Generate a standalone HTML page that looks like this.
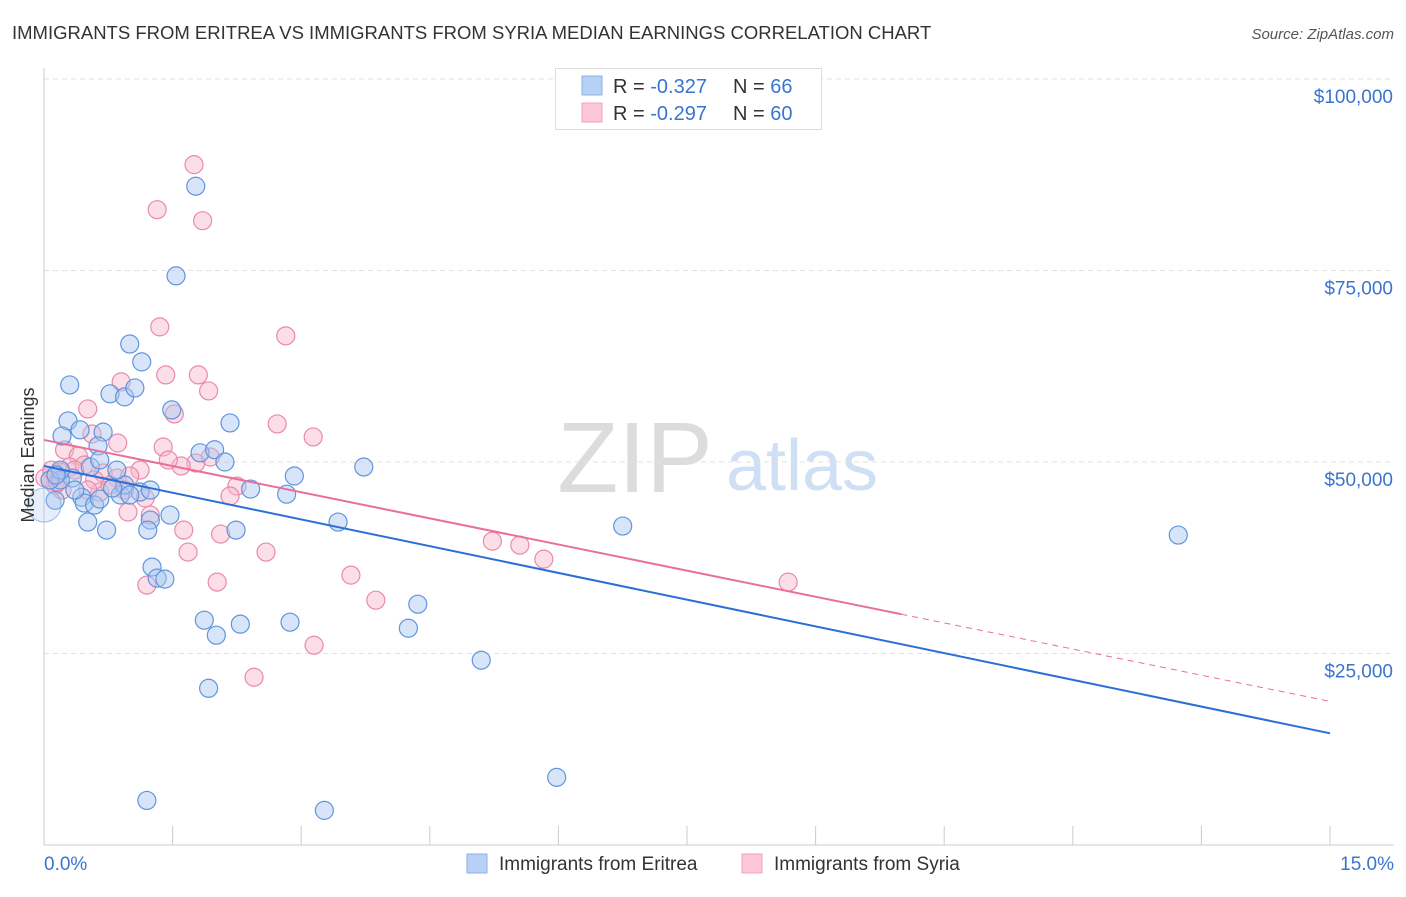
<!DOCTYPE html>
<html><head><meta charset="utf-8">
<style>
body{margin:0;background:#fff;font-family:"Liberation Sans",sans-serif;}
svg text{font-family:"Liberation Sans",sans-serif;}
</style></head>
<body>
<svg id="chart" width="1406" height="892" viewBox="0 0 1406 892">
<text x="12" y="39" font-size="18.5" fill="#333">IMMIGRANTS FROM ERITREA VS IMMIGRANTS FROM SYRIA MEDIAN EARNINGS CORRELATION CHART</text>
<text x="1394" y="39" font-size="15" fill="#555" font-style="italic" text-anchor="end">Source: ZipAtlas.com</text>
<g>
<text x="635" y="492" font-size="100" fill="#dcdcdc" text-anchor="middle" font-family="Liberation Serif">ZIP</text>
<text x="802" y="490" font-size="72" fill="#cfe0f4" text-anchor="middle">atlas</text>
</g>
<g id="grid"></g>
<g id="axes"></g>
<g id="marks"></g>
<text transform="translate(34,455) rotate(-90)" font-size="18" fill="#333" text-anchor="middle">Median Earnings</text>
<g>
<rect x="555.5" y="68.5" width="266" height="61" fill="#fff" stroke="#ddd"/>
<rect x="582" y="76" width="20" height="19" fill="#b7d1f5" stroke="#8ab2e8"/>
<rect x="582" y="103" width="20" height="19" fill="#fcc7d7" stroke="#f0a3bd"/>
<text x="613" y="93" font-size="20" fill="#333">R = <tspan fill="#3a74d0">-0.327</tspan></text>
<text x="733" y="93" font-size="20" fill="#333">N = <tspan fill="#3a74d0">66</tspan></text>
<text x="613" y="120" font-size="20" fill="#333">R = <tspan fill="#3a74d0">-0.297</tspan></text>
<text x="733" y="120" font-size="20" fill="#333">N = <tspan fill="#3a74d0">60</tspan></text>
</g>
<g>
<rect x="467" y="854" width="20" height="19" fill="#b7d1f5" stroke="#8ab2e8"/>
<text x="499" y="870" font-size="19" fill="#333">Immigrants from Eritrea</text>
<rect x="742" y="854" width="20" height="19" fill="#fcc7d7" stroke="#f0a3bd"/>
<text x="774" y="870" font-size="19" fill="#333">Immigrants from Syria</text>
</g>
</svg>
<script>
const xTicks=[0,1.5,3,4.5,6,7.5,9,10.5,12,13.5,15];
const yTicks=[25000,50000,75000,100000];
const yTickLabels=["$25,000","$50,000","$75,000","$100,000"];
const xEdgeLabels=["0.0%","15.0%"];
const eritreaX=[1.77,1.54,1.00,1.14,0.30,0.77,0.94,1.06,0.28,0.21,0.42,0.69,1.49,2.17,1.82,1.99,2.11,2.92,3.73,2.83,2.41,0.63,0.54,0.33,0.19,0.07,0.13,0.44,0.47,0.59,0.65,0.89,0.94,1.12,0.80,1.24,1.47,2.24,0.73,0.51,3.43,6.75,13.23,1.26,1.32,1.41,1.87,2.87,2.29,2.01,4.36,4.25,5.10,1.92,5.98,1.20,3.27,1.21,0.85,0.65,1.00,0.19,0.36,1.24,0.14,0.00];
const eritreaY=[86000,74300,65400,63070,60060,58900,58500,59670,55360,53400,54200,53900,56800,55100,51200,51600,50000,48170,49350,45800,46470,52100,49350,47900,47650,47650,45000,45400,44640,44380,45160,45690,47000,46080,46600,42420,43070,41110,41110,42160,42160,41640,40460,36280,34840,34710,29350,29090,28830,27390,31440,28300,24120,20460,8830,5820,4520,41110,48950,50260,45690,48950,46340,46340,48300,44380];
const syriaX=[1.75,1.32,1.85,1.35,2.82,1.42,1.80,0.90,1.92,0.51,1.52,2.72,3.14,0.56,0.86,1.39,1.94,1.77,1.60,0.24,0.40,0.30,0.47,0.69,0.85,1.12,0.07,0.13,0.21,0.65,1.18,2.25,2.17,1.24,0.98,1.63,2.06,1.68,2.59,5.23,5.55,5.83,3.58,2.02,1.20,3.87,8.68,3.15,2.45,0.19,0.01,0.59,1.00,0.77,0.94,1.45,0.36,0.09,0.16,0.51];
const syriaY=[88820,82940,81500,67640,66470,61370,61370,60460,59280,56930,56270,54970,53270,53660,52480,51960,50650,49870,49480,51570,50780,49350,49610,48560,47910,48950,47650,46990,46340,46080,45300,46860,45560,43070,43470,41110,40590,38240,38240,39670,39150,37320,35230,34320,33930,31960,34320,26080,21900,48690,47910,47650,48170,46990,46340,50260,48950,48950,47390,46340];
const eritreaTrend=[49480,14580];
const syriaTrend=[52880,18755];
const syriaSolidEnd=10;

const NS="http://www.w3.org/2000/svg";
const X0=44,X1=1330,Y0=845,YT=79;
function sx(v){return X0+v/15*(X1-X0);}
function sy(v){return Y0-v/100000*(Y0-YT);}
function mk(tag,attrs,parent){const e=document.createElementNS(NS,tag);for(const k in attrs)e.setAttribute(k,attrs[k]);parent.appendChild(e);return e;}
const grid=document.getElementById('grid'),axes=document.getElementById('axes'),marks=document.getElementById('marks');
yTicks.forEach((t,i)=>{
 const g=mk('line',{x1:X0,y1:sy(t),x2:1394,y2:sy(t),stroke:'#e2e2e2','stroke-dasharray':'5,4'},grid);
 
 
 const tx=mk('text',{x:1393,y:sy(t)+24,'font-size':19,fill:'#3a74d0','text-anchor':'end'},axes);
 tx.textContent=yTickLabels[i];
 
 
});
let ax=mk('line',{x1:X0,y1:68,x2:X0,y2:Y0,stroke:'#ccc'},axes);


let bx=mk('line',{x1:X0,y1:Y0,x2:1394,y2:Y0,stroke:'#ccc'},axes);


xTicks.forEach(t=>{
 const k=mk('line',{x1:sx(t),y1:826,x2:sx(t),y2:Y0,stroke:'#ccc'},axes);
 
 
});
[[0,'start',44],[1,'end',1394]].forEach(([i,a,x])=>{
 const tx=mk('text',{x:x,y:870,'font-size':19,fill:'#3a74d0','text-anchor':a},axes);
 tx.textContent=xEdgeLabels[i];
 
 
});
function dots(xs,ys,fill,stroke,name){
 xs.forEach((x,i)=>{
  const big=(i===xs.length-1&&name==='eritrea-point');
  const c=mk('circle',{cx:sx(x),cy:sy(ys[i]),r:big?17:9,fill:fill,'fill-opacity':big?0.3:0.45,stroke:stroke,'stroke-width':1.2,'stroke-opacity':big?0.5:1},marks);
  
  
 });
}
dots(syriaX,syriaY,'#f7b6ca','#e98aab','syria-point');
dots(eritreaX,eritreaY,'#a8c6ef','#5f95de','eritrea-point');
let tb=mk('line',{x1:sx(0),y1:sy(eritreaTrend[0]),x2:sx(15),y2:sy(eritreaTrend[1]),stroke:'#2a6fd6','stroke-width':2},marks);


const sMid=syriaTrend[0]+(syriaTrend[1]-syriaTrend[0])*syriaSolidEnd/15;
let tp=mk('line',{x1:sx(0),y1:sy(syriaTrend[0]),x2:sx(syriaSolidEnd),y2:sy(sMid),stroke:'#e8709a','stroke-width':2},marks);


let td=mk('line',{x1:sx(syriaSolidEnd),y1:sy(sMid),x2:sx(15),y2:sy(syriaTrend[1]),stroke:'#e8709a','stroke-width':1,'stroke-dasharray':'6,5'},marks);


</script>
</body></html>
